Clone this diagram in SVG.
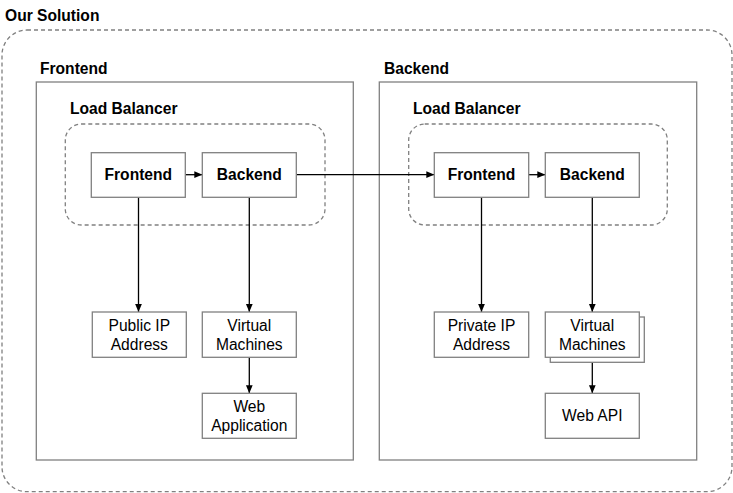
<svg xmlns="http://www.w3.org/2000/svg" width="733" height="493" viewBox="0 0 733 493">
<defs>
<style>
.t{font-family:"Liberation Sans",Arial,Helvetica,sans-serif;font-size:15.6px;fill:#000}
.b{font-weight:bold}
.c{text-anchor:middle}
.box{fill:#fff;stroke:#808080;stroke-width:1.3}
.dash{fill:none;stroke:#808080;stroke-width:1.3;stroke-dasharray:4 3}
.edge{fill:none;stroke:#000;stroke-width:1.3}
</style>
<marker id="ah" viewBox="0 0 10 10" refX="10" refY="5" markerWidth="8" markerHeight="8" markerUnits="userSpaceOnUse" orient="auto">
<path d="M0,0.8 L10,5 L0,9.2 Z" fill="#000"/>
</marker>
</defs>
<rect width="733" height="493" fill="#fff"/>

<g id="our-solution">
<rect class="dash" x="2" y="30" width="730" height="461.7" rx="25" ry="25"/>
<text class="t b" x="5" y="21">Our Solution</text>
</g>

<g id="frontend-group">
<rect class="box" x="36.3" y="82" width="317" height="378"/>
<text class="t b" x="40" y="74">Frontend</text>
</g>
<g id="backend-group">
<rect class="box" x="379.3" y="82" width="317.4" height="378"/>
<text class="t b" x="384" y="74">Backend</text>
</g>

<g id="lb-left">
<rect class="dash" x="65.3" y="124" width="259.7" height="101" rx="16" ry="16"/>
<text class="t b" x="70" y="114">Load Balancer</text>
</g>
<g id="lb-right">
<rect class="dash" x="408.7" y="124" width="258.6" height="101" rx="16" ry="16"/>
<text class="t b" x="413" y="114">Load Balancer</text>
</g>

<g id="connectors">
<path class="edge" d="M185.3,174.7 L202.3,174.7" marker-end="url(#ah)"/>
<path class="edge" d="M296.3,174.7 L434.3,174.7" marker-end="url(#ah)"/>
<path class="edge" d="M528.7,174.7 L545.3,174.7" marker-end="url(#ah)"/>
<path class="edge" d="M138.5,197.3 L138.5,312" marker-end="url(#ah)"/>
<path class="edge" d="M249.3,197.3 L249.3,312" marker-end="url(#ah)"/>
<path class="edge" d="M249.3,357.3 L249.3,393.3" marker-end="url(#ah)"/>
<path class="edge" d="M481.5,197.3 L481.5,312" marker-end="url(#ah)"/>
<path class="edge" d="M592.3,197.3 L592.3,312" marker-end="url(#ah)"/>
<path class="edge" d="M592.3,357.3 L592.3,393.3" marker-end="url(#ah)"/>
</g>

<g id="lb1-frontend">
<rect class="box" x="91.3" y="152.7" width="94" height="44.6"/>
<text class="t b c" x="138.3" y="180">Frontend</text>
</g>
<g id="lb1-backend">
<rect class="box" x="202.3" y="152.7" width="94" height="44.6"/>
<text class="t b c" x="249.3" y="180">Backend</text>
</g>
<g id="lb2-frontend">
<rect class="box" x="434.3" y="152.7" width="94.4" height="44.6"/>
<text class="t b c" x="481.5" y="180">Frontend</text>
</g>
<g id="lb2-backend">
<rect class="box" x="545.3" y="152.7" width="94" height="44.6"/>
<text class="t b c" x="592.3" y="180">Backend</text>
</g>

<g id="public-ip">
<rect class="box" x="92.3" y="312" width="94" height="45.3"/>
<text class="t c" x="139.3" y="331">Public IP</text>
<text class="t c" x="139.3" y="349.5">Address</text>
</g>
<g id="vm-left">
<rect class="box" x="202.3" y="312" width="94" height="45.3"/>
<text class="t c" x="249.3" y="331">Virtual</text>
<text class="t c" x="249.3" y="349.5">Machines</text>
</g>
<g id="web-app">
<rect class="box" x="202.3" y="393.3" width="94" height="45"/>
<text class="t c" x="249.3" y="412">Web</text>
<text class="t c" x="249.3" y="430.5">Application</text>
</g>
<g id="private-ip">
<rect class="box" x="434.3" y="312" width="94.4" height="45.3"/>
<text class="t c" x="481.5" y="331">Private IP</text>
<text class="t c" x="481.5" y="349.5">Address</text>
</g>
<g id="vm-right">
<rect class="box" x="550.3" y="317" width="94" height="45.3"/>
<rect class="box" x="545.3" y="312" width="94" height="45.3"/>
<text class="t c" x="592.3" y="331">Virtual</text>
<text class="t c" x="592.3" y="349.5">Machines</text>
</g>
<g id="web-api">
<rect class="box" x="545.3" y="393.3" width="94" height="45"/>
<text class="t c" x="592.3" y="421">Web API</text>
</g>
</svg>
